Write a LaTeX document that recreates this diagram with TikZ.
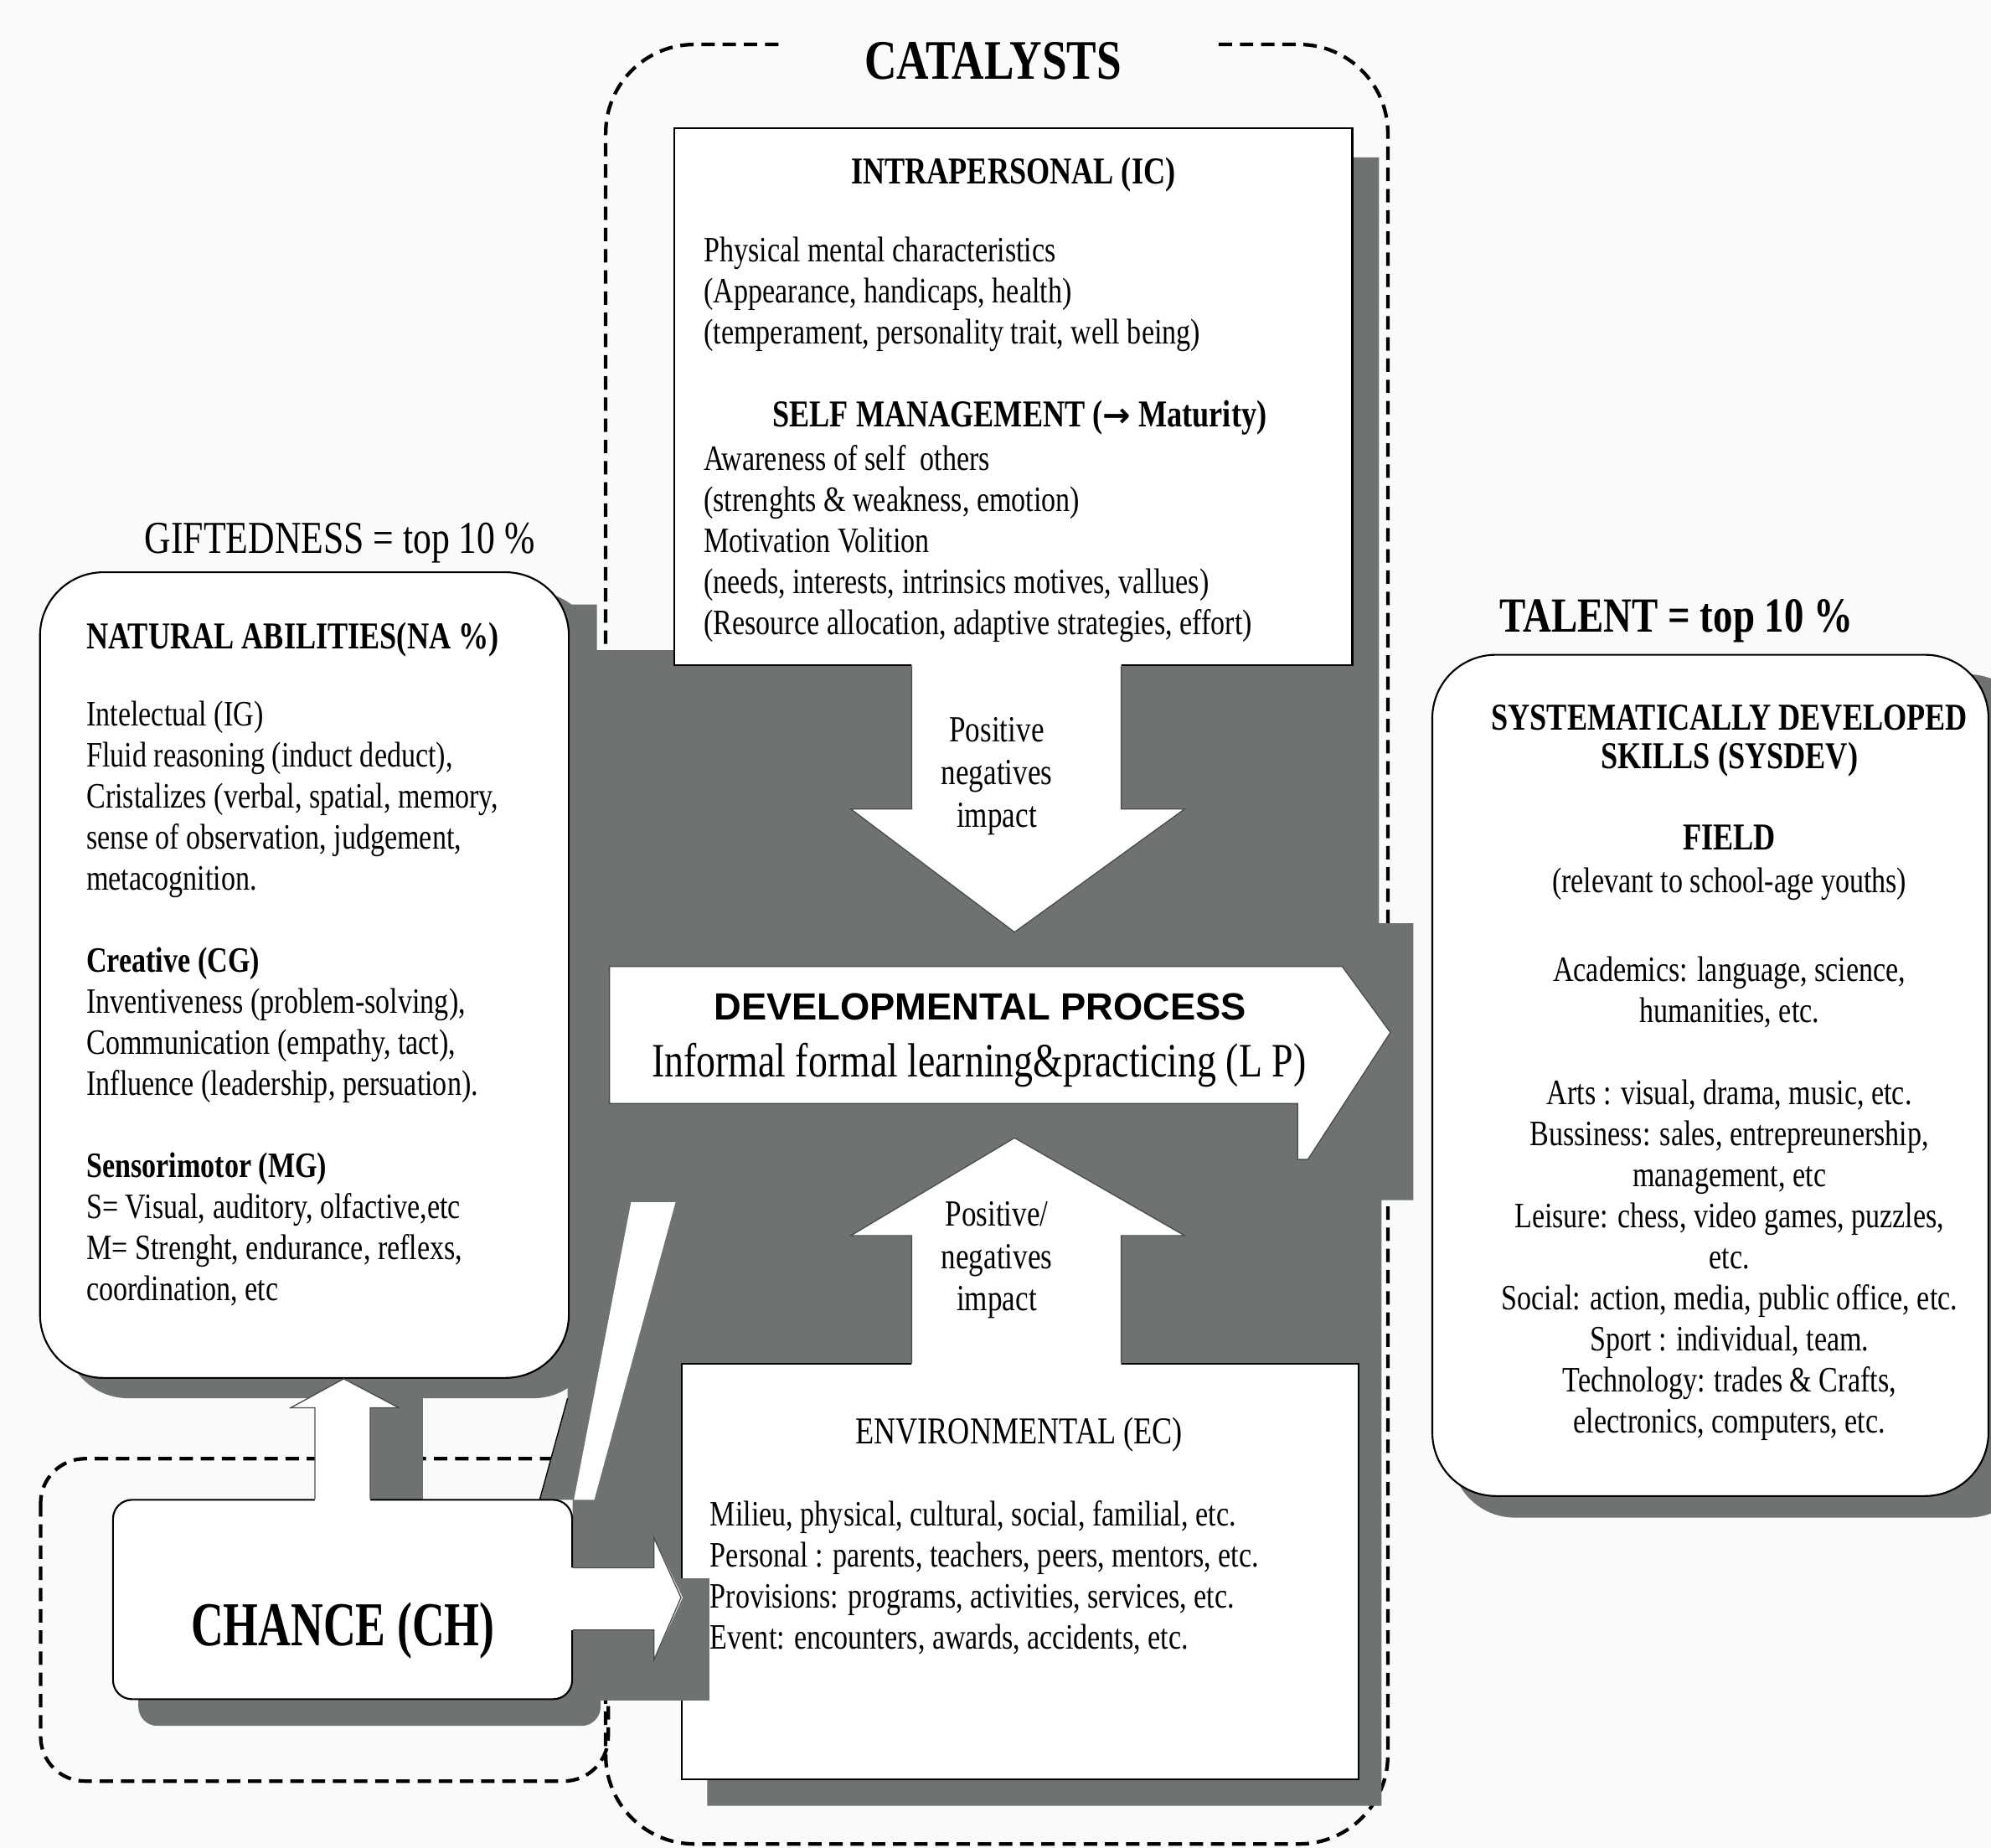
\documentclass[tikz,border=0pt]{standalone}
\usepackage{fontspec}
\setmainfont{Liberation Serif}[FakeStretch=0.8]
\newfontfamily\dpfont{Liberation Sans}
\newfontfamily\chfont{Liberation Serif}[FakeStretch=0.72]
\newfontfamily\symfont{DejaVu Sans}
\usetikzlibrary{positioning, fit, calc}

\definecolor{stipple}{RGB}{110,114,114}
\definecolor{paper}{RGB}{250,250,250}

\begin{document}
\begin{tikzpicture}[
      x=0.02cm, y=-0.02cm,
      box/.style={draw, line width=0.8pt, fill=white, inner sep=0pt},
      rbox/.style={box, rounded corners=1cm},
      shade/.style={fill=stipple, draw=none},
      dashline/.style={line width=1.6pt, dash pattern=on 6pt off 3.5pt},
      arrowedge/.style={draw=black!70, line width=0.5pt},
      body/.style={font=\fontsize{16}{18.4}\selectfont, inner sep=0pt, align=left, anchor=north west},
      listc/.style={body, align=center, anchor=north},
      head/.style={font=\bfseries\fontsize{17}{17}\selectfont, inner sep=0pt},
      plain/.style={font=\fontsize{17}{17}\selectfont, inner sep=0pt},
      impact/.style={font=\fontsize{16.5}{19}\selectfont, inner sep=0pt, align=center, anchor=north}
    ]
    \fill[paper] (0,0) rectangle (1568,1455);
    \useasboundingbox (0,0) rectangle (1568,1455);
    \clip (0,0) rectangle (1568,1455);

    \draw[dashline, rounded corners=0.7cm] (32,1148.6) rectangle (479,1402.5);
    \draw[dashline, rounded corners=1.4cm] (613,35) -- (477,35) -- (477,1452) -- (1093,1452) -- (1093,35) -- (954,35);

    \fill[shade] (447,476) -- (470,476) -- (470,512) -- (552,512) -- (552,124) -- (1086,124) -- (1086,727)
      -- (1113,727) -- (1113,945) -- (1088,945) -- (1088,1422) -- (557,1422) -- (557,1339) -- (451,1339)
      -- (451,1181) -- (425,1181) -- (447,1101) -- cycle;
    \fill[shade, rounded corners=1cm] (51,466) rectangle (470,1101);
    \fill[shade, rounded corners=0.3cm] (109,1201) rectangle (473,1359);
    \fill[shade] (291.6,1101) rectangle (333,1201);
    \fill[shade, rounded corners=1cm] (1143,531) rectangle (1600,1195);

    \node[box, fit={(531,101) (1065,524)}] (ic) {};
    \node[box, fit={(537,1074) (1070,1401)}] (ec) {};
    \node[rbox, fit={(31.5,450.6) (448,1085)}] (na) {};
    \node[rbox, fit={(1128,515.6) (1566,1178)}] (tal) {};
    \node[box, rounded corners=0.3cm, fit={(89,1181) (450.6,1338)}] (ch) {};

    \fill[shade] (536,1243) rectangle (559,1339);
    \fill[white] (497,946.6) -- (532,946.6) -- (468,1181) -- (452,1181) -- cycle;
    \draw[line width=0.5pt] (447,1101) -- (425,1181);

    \filldraw[fill=white, arrowedge] (480,761) -- (1057,761) -- (1095,813) -- (1030,913) -- (1022,913) -- (1022,869) -- (480,869) -- cycle;

    \fill[white] (718,521) -- (718,637) -- (670,637) -- (799,734) -- (933,637) -- (883,637) -- (883,521) -- cycle;
    \draw[arrowedge] (ic.south -| 718,0) -- (718,637) -- (670,637) -- (799,734) -- (933,637) -- (883,637) -- (ic.south -| 883,0);

    \fill[white] (718,1077) -- (718,973) -- (670,973) -- (799,896) -- (933,973) -- (883,973) -- (883,1077) -- cycle;
    \draw[arrowedge] (ec.north -| 718,0) -- (718,973) -- (670,973) -- (799,896) -- (933,973) -- (883,973) -- (ec.north -| 883,0);

    \fill[white] (248,1184) -- (248,1108.5) -- (229,1108.5) -- (270.7,1086) -- (314,1108.5) -- (291.6,1108.5) -- (291.6,1184) -- cycle;
    \draw[arrowedge] (ch.north -| 248,0) -- (248,1108.5) -- (229,1108.5) -- (na.south -| 270.7,0) -- (314,1108.5) -- (291.6,1108.5) -- (ch.north -| 291.6,0);

    \fill[white] (447.6,1234.5) -- (515,1234.5) -- (515,1210.8) -- (537.6,1258) -- (515,1307) -- (515,1283.5) -- (447.6,1283.5) -- cycle;
    \draw[arrowedge] (ch.east |- 0,1234.5) -- (515,1234.5) -- (515,1210.8) -- (ec.west |- 0,1258) -- (515,1307) -- (515,1283.5) -- (ch.east |- 0,1283.5);

    \node[font=\bfseries\fontsize{25}{25}\selectfont, inner sep=0pt, anchor=base] (catlabel) at (782,62) {CATALYSTS};
    \node[font=\fontsize{20.5}{20.5}\selectfont, inner sep=0pt, above right=0.28cm and 0.56cm of na.north, anchor=base] (giftlabel) {GIFTEDNESS = top 10 \%};
    \node[font=\bfseries\fontsize{22}{22}\selectfont, inner sep=0pt, above right=0.35cm and 1.07cm of tal.north west, anchor=base west] (tallabel) {TALENT = top 10 \%};

    \node[head, anchor=base] (ictitle) at (798,144.5) {INTRAPERSONAL (IC)};
    \node[body] (ictext) at (554,183.4) {\strut Physical mental characteristics\\(Appearance, handicaps, health)\\(temperament, personality trait, well being)};
    \node[head, anchor=base] (smtitle) at (803,336) {SELF MANAGEMENT ({\symfont\bfseries\fontsize{15}{15}\selectfont →} Maturity)};
    \node[body] (smtext) at (554,347.4) {\strut Awareness of self \ others\\(strenghts \& weakness, emotion)\\Motivation Volition\\(needs, interests, intrinsics motives, vallues)\\(Resource allocation, adaptive strategies, effort)};

    \node[head, anchor=base west] (natitle) at (67.8,511) {NATURAL ABILITIES(NA \%)};
    \node[body] (natext) at (67.8,548.4) {\strut Intelectual (IG)\\Fluid reasoning (induct deduct),\\Cristalizes (verbal, spatial, memory,\\sense of observation, judgement,\\metacognition.\\~\\\textbf{Creative (CG)}\\Inventiveness (problem-solving),\\Communication (empathy, tact),\\Influence (leadership, persuation).\\~\\\textbf{Sensorimotor (MG)}\\S= Visual, auditory, olfactive,etc\\M= Strenght, endurance, reflexs,\\coordination, etc};

    \node[impact] (posup) at (785,560.6) {\strut Positive\\negatives\\impact};
    \node[impact] (posdown) at (785,941.6) {\strut Positive/\\negatives\\impact};

    \node[font=\dpfont\bfseries\fontsize{17}{17}\selectfont, inner sep=0pt, anchor=base] (dptitle) at (772,803) {DEVELOPMENTAL PROCESS};
    \node[font=\fontsize{21.5}{21.5}\selectfont, inner sep=0pt, anchor=base] (dptext) at (771,848) {Informal formal learning\&practicing (L P)};

    \node[plain, anchor=base] (ectitle) at (802.5,1137) {ENVIRONMENTAL (EC)};
    \node[body] (ectext) at (559,1178.4) {\strut Milieu, physical, cultural, social, familial, etc.\\Personal : parents, teachers, peers, mentors, etc.\\Provisions: programs, activities, services, etc.\\Event: encounters, awards, accidents, etc.};

    \node[font=\chfont\bfseries\fontsize{28}{28}\selectfont, inner sep=0pt, anchor=base] (chlabel) at (270,1295.6) {CHANCE (CH)};

    \node[head, font=\bfseries\fontsize{17}{17.1}\selectfont, align=center, anchor=north] (tsys) at (1362,553.5) {\strut SYSTEMATICALLY DEVELOPED\\SKILLS (SYSDEV)};
    \node[head, anchor=base] (tfield) at (1362,669.5) {FIELD};
    \node[font=\fontsize{16}{18.4}\selectfont, inner sep=0pt, anchor=base] (trel) at (1362,703) {(relevant to school-age youths)};
    \node[listc] (tlist) at (1362,749.9) {\strut Academics: language, science,\\humanities, etc.\\~\\Arts : visual, drama, music, etc.\\Bussiness: sales, entrepreunership,\\management, etc\\Leisure: chess, video games, puzzles,\\etc.\\Social: action, media, public office, etc.\\Sport : individual, team.\\Technology: trades \& Crafts,\\electronics, computers, etc.};
  \end{tikzpicture}
\end{document}
